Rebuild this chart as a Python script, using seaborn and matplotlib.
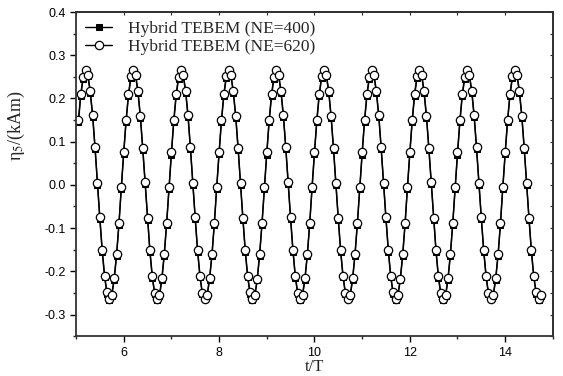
import numpy as np
import pandas as pd
import matplotlib
matplotlib.use("Agg")
import matplotlib.pyplot as plt
import seaborn as sns
from matplotlib.ticker import MultipleLocator

# sample times t/T (dt = 0.05), 5.05 .. 14.75
t_vals = np.round(np.arange(5.05, 14.751, 0.05), 2)

# Hybrid TEBEM (NE=620) - open circles, one row per period
eta_620 = [
    0.150, 0.211, 0.250, 0.265, 0.254, 0.217, 0.161, 0.087, 0.005, -0.075, -0.150, -0.210, -0.249, -0.265, -0.254, -0.216, -0.161, -0.089, -0.004, 0.076,
    0.151, 0.210, 0.251, 0.266, 0.255, 0.217, 0.160, 0.086, 0.006, -0.076, -0.151, -0.211, -0.250, -0.265, -0.255, -0.216, -0.160, -0.088, -0.005, 0.075,
    0.150, 0.210, 0.250, 0.265, 0.255, 0.218, 0.161, 0.087, 0.005, -0.075, -0.150, -0.210, -0.250, -0.264, -0.254, -0.216, -0.161, -0.089, -0.004, 0.076,
    0.151, 0.211, 0.251, 0.265, 0.254, 0.217, 0.160, 0.086, 0.005, -0.076, -0.151, -0.210, -0.249, -0.265, -0.255, -0.217, -0.160, -0.088, -0.005, 0.075,
    0.150, 0.210, 0.250, 0.266, 0.255, 0.217, 0.161, 0.087, 0.006, -0.075, -0.150, -0.211, -0.250, -0.265, -0.254, -0.216, -0.161, -0.089, -0.004, 0.076,
    0.151, 0.211, 0.251, 0.265, 0.255, 0.218, 0.160, 0.086, 0.005, -0.076, -0.151, -0.210, -0.250, -0.264, -0.255, -0.216, -0.160, -0.088, -0.005, 0.075,
    0.150, 0.210, 0.250, 0.265, 0.254, 0.217, 0.161, 0.087, 0.005, -0.075, -0.150, -0.210, -0.249, -0.265, -0.254, -0.217, -0.161, -0.089, -0.004, 0.076,
    0.151, 0.211, 0.251, 0.266, 0.255, 0.217, 0.160, 0.086, 0.006, -0.076, -0.151, -0.211, -0.250, -0.265, -0.255, -0.216, -0.160, -0.088, -0.005, 0.075,
    0.150, 0.210, 0.250, 0.265, 0.255, 0.218, 0.161, 0.087, 0.005, -0.075, -0.150, -0.210, -0.250, -0.264, -0.254, -0.216, -0.161, -0.089, -0.004, 0.076,
    0.151, 0.211, 0.251, 0.265, 0.254, 0.217, 0.160, 0.086, 0.005, -0.076, -0.151, -0.210, -0.249, -0.265, -0.255,
]

# Hybrid TEBEM (NE=400) - filled squares, sitting just below the circles
eta_400 = [
    0.145, 0.206, 0.246, 0.262, 0.251, 0.212, 0.156, 0.082, 0.000, -0.080, -0.155, -0.214, -0.252, -0.266, -0.257, -0.220, -0.165, -0.093, -0.009, 0.071,
    0.146, 0.205, 0.247, 0.263, 0.252, 0.212, 0.155, 0.081, 0.001, -0.081, -0.156, -0.215, -0.253, -0.266, -0.258, -0.220, -0.164, -0.092, -0.010, 0.070,
    0.145, 0.205, 0.246, 0.262, 0.252, 0.213, 0.156, 0.082, 0.000, -0.080, -0.155, -0.214, -0.253, -0.265, -0.257, -0.220, -0.165, -0.093, -0.009, 0.071,
    0.146, 0.206, 0.247, 0.262, 0.251, 0.212, 0.155, 0.081, 0.000, -0.081, -0.156, -0.214, -0.252, -0.266, -0.258, -0.221, -0.164, -0.092, -0.010, 0.070,
    0.145, 0.205, 0.246, 0.263, 0.252, 0.212, 0.156, 0.082, 0.001, -0.080, -0.155, -0.215, -0.253, -0.266, -0.257, -0.220, -0.165, -0.093, -0.009, 0.071,
    0.146, 0.206, 0.247, 0.262, 0.252, 0.213, 0.155, 0.081, 0.000, -0.081, -0.156, -0.214, -0.253, -0.265, -0.258, -0.220, -0.164, -0.092, -0.010, 0.070,
    0.145, 0.205, 0.246, 0.262, 0.251, 0.212, 0.156, 0.082, 0.000, -0.080, -0.155, -0.214, -0.252, -0.266, -0.257, -0.221, -0.165, -0.093, -0.009, 0.071,
    0.146, 0.206, 0.247, 0.263, 0.252, 0.212, 0.155, 0.081, 0.001, -0.081, -0.156, -0.215, -0.253, -0.266, -0.258, -0.220, -0.164, -0.092, -0.010, 0.070,
    0.145, 0.205, 0.246, 0.262, 0.252, 0.213, 0.156, 0.082, 0.000, -0.080, -0.155, -0.214, -0.253, -0.265, -0.257, -0.220, -0.165, -0.093, -0.009, 0.071,
    0.146, 0.206, 0.247, 0.262, 0.251, 0.212, 0.155, 0.081, 0.000, -0.081, -0.156, -0.214, -0.252, -0.266, -0.258,
]

labels = ["Hybrid TEBEM (NE=400)", "Hybrid TEBEM (NE=620)"]

df = pd.DataFrame({"t": t_vals, "NE400": eta_400, "NE620": eta_620})

sns.set_style("ticks")
plt.rcParams["font.family"] = ["Liberation Sans", "DejaVu Sans"]
plt.rcParams["mathtext.fontset"] = "stix"

fig = plt.figure(figsize=(5.63, 3.76), dpi=100)
ax = fig.add_axes([0.135, 0.106, 0.847, 0.862])

sns.lineplot(data=df, x="t", y="NE400", ax=ax, sort=False, color="black", lw=1.0,
             marker="s", markersize=4, markerfacecolor="black", markeredgecolor="black",
             label=labels[0])
sns.lineplot(data=df, x="t", y="NE620", ax=ax, sort=False, color="black", lw=1.0,
             marker="o", markersize=6, markerfacecolor="white", markeredgecolor="black",
             markeredgewidth=0.9, label=labels[1])

ax.set_xlim(5, 15)
ax.set_ylim(-0.35, 0.4)

ax.xaxis.set_major_locator(MultipleLocator(2))
ax.xaxis.set_minor_locator(MultipleLocator(1))
ax.yaxis.set_major_locator(MultipleLocator(0.1))
ax.yaxis.set_minor_locator(MultipleLocator(0.05))
ax.yaxis.set_major_formatter(plt.FuncFormatter(lambda v, p: f"{v:.1f}"))
ax.xaxis.set_major_formatter(plt.FuncFormatter(lambda v, p: f"{v:g}"))

ax.tick_params(which="major", direction="out", length=4, width=1, labelsize=9, colors="black")
ax.tick_params(which="minor", direction="out", length=2.5, width=1)

# mirrored ticks pointing inward on top and right
top = ax.secondary_xaxis("top")
top.xaxis.set_major_locator(MultipleLocator(1))
top.tick_params(direction="in", length=2.5, width=0.8, labeltop=False)
right = ax.secondary_yaxis("right")
right.yaxis.set_major_locator(MultipleLocator(0.05))
right.tick_params(direction="in", length=2.5, width=0.8, labelright=False)

for s in list(ax.spines.values()):
    s.set_linewidth(1.3)
    s.set_color("#333333")
top.spines["top"].set_linewidth(1.3)
right.spines["right"].set_linewidth(1.3)

ax.set_xlabel("t/T", family=["Liberation Serif"], fontsize=12, labelpad=0)
ax.set_ylabel(r"η$_5$/(kAm)", family=["Liberation Serif"], fontsize=13)
# label sits above the centre of the axis, as in the original
ax.yaxis.set_label_coords(-0.103, 0.65)

leg = ax.legend(loc="upper left", frameon=False, prop={"family": "Liberation Serif", "size": 12.5},
                handlelength=1.6, borderaxespad=0.2, labelspacing=0.1, handletextpad=0.9,
                borderpad=0.3)

fig.savefig("out.png", dpi=100)
